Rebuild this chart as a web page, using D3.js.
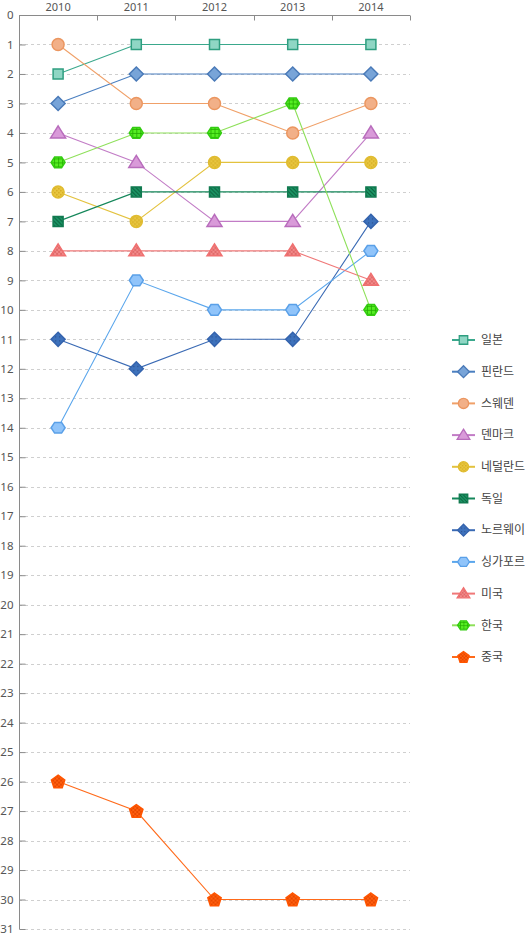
<!DOCTYPE html>
<html><head><meta charset="utf-8">
<script src="https://cdn.jsdelivr.net/npm/d3@7"></script>
<style>
body{margin:0;background:#fff;}
text{font-family:"Noto Sans","Noto Sans CJK KR",sans-serif;}
</style></head>
<body><svg id="c" width="525" height="934"></svg>
<script>
const years = ["2010","2011","2012","2013","2014"];
const countries = ["일본","핀란드","스웨덴","덴마크","네덜란드","독일","노르웨이","싱가포르","미국","한국","중국"];
const japan = [2,1,1,1,1];
const finland = [3,2,2,2,2];
const sweden = [1,3,3,4,3];
const denmark = [4,5,7,7,4];
const netherlands = [6,7,5,5,5];
const germany = [7,6,6,6,6];
const norway = [11,12,11,11,7];
const singapore = [14,9,10,10,8];
const usa = [8,8,8,8,9];
const korea = [5,4,4,3,10];
const china = [26,27,30,30,30];
const rankTicks = d3.range(0,32);

const seriesValues = [japan,finland,sweden,denmark,netherlands,germany,norway,singapore,usa,korea,china];
const styles = [
 {line:"#3aa88c", stroke:"#2f9e80", fill:"#8fd6c4", shape:"square", pat:null},
 {line:"#4a7fc0", stroke:"#4a7ab8", fill:"#78a4d8", shape:"diamond", pat:null},
 {line:"#f0a068", stroke:"#eb9660", fill:"#f2b088", shape:"circle", pat:null},
 {line:"#c27cc6", stroke:"#b86cbc", fill:"#d99ad9", shape:"triangle", pat:null},
 {line:"#e3c23e", stroke:"#e0bc30", fill:"#ead060", shape:"circle", pat:"dots"},
 {line:"#15875a", stroke:"#117a50", fill:"#1a8a5a", shape:"square", pat:"stripes"},
 {line:"#3a6ab4", stroke:"#3463ad", fill:"#3d6fb8", shape:"diamond", pat:"bdots"},
 {line:"#5aa6ec", stroke:"#5aa0e8", fill:"#90c4fa", shape:"hexagon", pat:null},
 {line:"#f07878", stroke:"#f07070", fill:"#f28888", shape:"triangle", pat:"check"},
 {line:"#8ee05a", stroke:"#33cc11", fill:"#44dd22", shape:"hexagon", pat:"grid"},
 {line:"#ff6a1a", stroke:"#ff5500", fill:"#ff5a00", shape:"pentagon", pat:"ochk"}
];

(function(){
const svg = d3.select("#c");
const defs = svg.append("defs");
function pattern(id, bg, fg, draw){
  const p = defs.append("pattern").attr("id",id).attr("patternUnits","userSpaceOnUse").attr("width",4).attr("height",4);
  p.append("rect").attr("width",4).attr("height",4).attr("fill",bg);
  draw(p, fg);
}
pattern("dots","#e8c640","#d4aa20",(p,c)=>{p.append("rect").attr("x",0).attr("y",0).attr("width",1.5).attr("height",1.5).attr("fill",c);p.append("rect").attr("x",2).attr("y",2).attr("width",1.5).attr("height",1.5).attr("fill",c);});
pattern("stripes","#1c9a68","#0b5e3c",(p,c)=>{p.append("path").attr("d","M0,0 L4,4 M-1,3 L1,5 M3,-1 L5,1").attr("stroke",c).attr("stroke-width",1.2);});
pattern("bdots","#3e72bc","#2a4f8c",(p,c)=>{p.append("rect").attr("x",1).attr("y",1).attr("width",1.2).attr("height",1.2).attr("fill",c);});
pattern("check","#f28a8a","#e06a6a",(p,c)=>{p.append("rect").attr("width",2).attr("height",2).attr("fill",c);p.append("rect").attr("x",2).attr("y",2).attr("width",2).attr("height",2).attr("fill",c);});
pattern("grid","#55ee22","#22aa00",(p,c)=>{p.append("path").attr("d","M0,0.5 H4 M0.5,0 V4").attr("stroke",c).attr("stroke-width",0.8);});
pattern("ochk","#ff6010","#e84800",(p,c)=>{p.append("rect").attr("width",2).attr("height",2).attr("fill",c);p.append("rect").attr("x",2).attr("y",2).attr("width",2).attr("height",2).attr("fill",c);});

const L=19, R=410, T=15, B=929;
const x = d3.scaleBand().domain(years).range([L,R]);
const y = d3.scaleLinear().domain([0,31]).range([T,B]);

// grid
svg.append("g").selectAll("line").data(rankTicks.slice(1)).join("line")
  .attr("x1",L).attr("x2",R).attr("y1",d=>Math.round(y(d))+0.5).attr("y2",d=>Math.round(y(d))+0.5)
  .attr("stroke","#cfcfcf").attr("stroke-dasharray","3,3").attr("stroke-width",1);

// y axis
const ya = svg.append("g").attr("transform",`translate(${L+0.5},0)`)
  .call(d3.axisLeft(y).tickValues(rankTicks).tickSize(-6).tickPadding(6).tickFormat(d3.format("d")));
ya.select(".domain").attr("stroke","#8a8a8a").attr("d",`M0,${T}V${B}`);
ya.selectAll(".tick line").attr("stroke","#8a8a8a");
ya.selectAll("text").attr("fill","#555").style("font-size","11.5px").attr("x",-6);

// x axis top
const xa = svg.append("g").attr("transform",`translate(0,${T+0.5})`)
  .call(d3.axisTop(x).tickSize(0).tickPadding(5));
xa.select(".domain").attr("stroke","#8a8a8a").attr("d",`M${L},0H${R}`);
xa.selectAll("text").attr("fill","#555").style("font-size","11px");
xa.append("g").selectAll("line").data(years).join("line")
  .attr("x1",d=>Math.round(x(d)+x.bandwidth())+0.5).attr("x2",d=>Math.round(x(d)+x.bandwidth())+0.5)
  .attr("y1",0).attr("y2",5).attr("stroke","#8a8a8a");

function shapePath(shape){
  switch(shape){
    case "square": return "M-5,-5H5V5H-5Z";
    case "diamond": return "M0,-7L7,0L0,7L-7,0Z";
    case "circle": return "M6,0A6,6 0 1,1 -6,0A6,6 0 1,1 6,0Z";
    case "triangle": return "M0,-7L7.5,5H-7.5Z";
    case "hexagon": { const r=7; return "M"+d3.range(6).map(i=>{const a=Math.PI/3*i; return [r*Math.cos(a), r*0.88*Math.sin(a)].join(",");}).join("L")+"Z"; }
    case "pentagon": { const r=7; return "M"+d3.range(5).map(i=>{const a=-Math.PI/2+2*Math.PI/5*i; return [r*Math.cos(a), r*Math.sin(a)+0.5].join(",");}).join("L")+"Z"; }
  }
}

const line = d3.line().x((d,i)=>x(years[i])+x.bandwidth()/2).y(d=>y(d));
const g = svg.append("g");
seriesValues.forEach((vals,si)=>{
  const st = styles[si];
  g.append("path").attr("d",line(vals)).attr("fill","none").attr("stroke",st.line).attr("stroke-width",1.1);
});
seriesValues.forEach((vals,si)=>{
  const st = styles[si];
  g.append("g").selectAll("path").data(vals).join("path")
    .attr("transform",(d,i)=>`translate(${x(years[i])+x.bandwidth()/2},${y(d)})`)
    .attr("d",shapePath(st.shape))
    .attr("fill",st.pat?`url(#${st.pat})`:st.fill)
    .attr("stroke",st.stroke).attr("stroke-width",1.5);
});

// legend
const lg = svg.append("g");
countries.forEach((c,i)=>{
  const st = styles[i];
  const ly = 340 + i*31.7;
  const row = lg.append("g").attr("transform",`translate(0,${ly})`);
  row.append("line").attr("x1",452).attr("x2",475).attr("y1",0).attr("y2",0).attr("stroke",st.line).attr("stroke-width",2);
  row.append("path").attr("transform","translate(463.5,0) scale(0.85)").attr("d",shapePath(st.shape))
    .attr("fill",st.pat?`url(#${st.pat})`:st.fill).attr("stroke",st.stroke).attr("stroke-width",1.5);
  row.append("text").attr("x",481).attr("y",0).attr("dy","0.35em").attr("fill","#444")
    .style("font-size","12px").style("font-family","'Noto Sans CJK KR',sans-serif").text(c);
});
})();
</script></body></html>
